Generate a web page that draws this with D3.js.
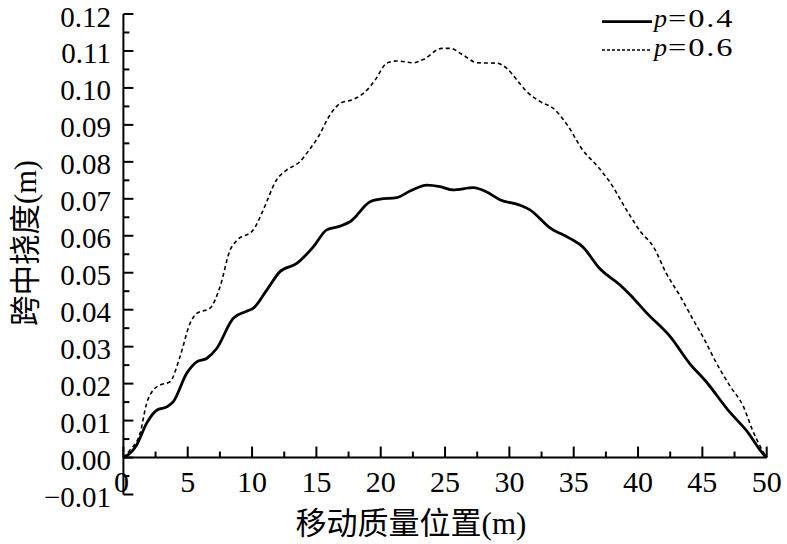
<!DOCTYPE html>
<html>
<head>
<meta charset="utf-8">
<script src="https://cdn.jsdelivr.net/npm/d3@7"></script>
<style>
  html, body { margin: 0; padding: 0; background: #fff; }
  svg { display: block; }
</style>
</head>
<body>
<svg id="chart" width="787" height="544"></svg>
<script>
// ---- data ----
const xP04 = [0, 0.12, 1.03, 1.81, 2.59, 3.37, 3.88, 4.92, 5.70, 6.47, 7.25, 8.54, 9.58, 10.1, 11.14, 12.17, 13.47, 14.76, 15.80, 16.84, 17.61, 19.17, 19.95, 21.24, 22.28, 23.6, 24.6, 25.6, 27.2, 28.2, 29.3, 30.8, 31.6, 33.1, 34.7, 35.7, 37.0, 38.6, 39.4, 40.7, 42.5, 44.0, 45.3, 47.1, 48.4, 49.8, 50];
const yP04 = [0, 0.0002, 0.0034, 0.0093, 0.0128, 0.0137, 0.0151, 0.0228, 0.0259, 0.0268, 0.0295, 0.0377, 0.0396, 0.0404, 0.0453, 0.0503, 0.0525, 0.0570, 0.0616, 0.0626, 0.0638, 0.0692, 0.0699, 0.0703, 0.0721, 0.0737, 0.0733, 0.0724, 0.0730, 0.0719, 0.0697, 0.0683, 0.0670, 0.0623, 0.0593, 0.0570, 0.0512, 0.0467, 0.0440, 0.0390, 0.0327, 0.0255, 0.0205, 0.0124, 0.0074, 0.0007, 0];
const xP06 = [0, 0.5, 1.29, 1.81, 2.33, 2.84, 3.62, 4.40, 5.18, 5.70, 6.73, 7.51, 8.29, 8.81, 10.1, 10.87, 11.9, 12.7, 13.7, 14.5, 15.15, 16.06, 16.84, 17.87, 18.65, 19.56, 20.47, 21.24, 22.53, 23.31, 24.74, 25.4, 26.4, 27.5, 29.0, 29.8, 30.6, 31.35, 32.4, 33.4, 34.5, 35.6, 37.0, 37.8, 39.1, 40.2, 41.2, 42.2, 43.3, 44.3, 45.1, 46.1, 47.1, 48.2, 48.9, 49.8, 50];
const yP06 = [0, 0.0020, 0.0065, 0.0147, 0.0183, 0.0196, 0.0205, 0.0273, 0.0363, 0.0390, 0.0404, 0.0462, 0.0561, 0.0587, 0.0616, 0.0670, 0.0751, 0.0778, 0.0800, 0.0835, 0.0868, 0.0927, 0.0958, 0.0969, 0.0985, 0.1021, 0.1067, 0.1073, 0.1068, 0.1077, 0.1107, 0.1107, 0.1089, 0.1068, 0.1067, 0.1053, 0.1021, 0.0990, 0.0963, 0.0945, 0.0900, 0.0837, 0.0782, 0.0746, 0.0670, 0.0611, 0.0570, 0.0498, 0.0435, 0.0372, 0.0323, 0.0255, 0.0196, 0.0137, 0.0074, 0.0011, 0];
const xTicks = [0, 5, 10, 15, 20, 25, 30, 35, 40, 45, 50];
const yTicks = [-0.01, 0, 0.01, 0.02, 0.03, 0.04, 0.05, 0.06, 0.07, 0.08, 0.09, 0.10, 0.11, 0.12];
const seriesNames = ["0.4", "0.6"];
const xTitleCJK = "移动质量位置";
const yTitleCJK = "跨中挠度";
const unit = "(m)";

// ---- layout ----
const SERIF = "'Liberation Serif', 'Times New Roman', 'DejaVu Serif', serif";
const CJK = "'Noto Sans CJK SC', sans-serif";
const svg = d3.select("#chart");
const x = d3.scaleLinear().domain([0, 50]).range([123.4, 766.7]);
const y = d3.scaleLinear().domain([-0.01, 0.12]).range([494.5, 14]);

// y axis line
svg.append("line").attr("x1", x(0)).attr("x2", x(0)).attr("y1", y(0.12)).attr("y2", y(-0.01))
  .attr("stroke", "#000").attr("stroke-width", 2);
// x axis line at y=0
svg.append("line").attr("x1", x(0)).attr("x2", x(50)).attr("y1", y(0)).attr("y2", y(0))
  .attr("stroke", "#000").attr("stroke-width", 2);

// y ticks (major + minor), pointing inward
const yMinor = d3.range(-0.005, 0.12, 0.01);
svg.selectAll(".ytk").data(yTicks).enter().append("line")
  .attr("x1", x(0)).attr("x2", x(0) + 10).attr("y1", d => y(d)).attr("y2", d => y(d))
  .attr("stroke", "#000").attr("stroke-width", 2);
svg.selectAll(".ytm").data(yMinor).enter().append("line")
  .attr("x1", x(0)).attr("x2", x(0) + 6).attr("y1", d => y(d)).attr("y2", d => y(d))
  .attr("stroke", "#000").attr("stroke-width", 2);
svg.selectAll(".ytl").data(yTicks).enter().append("text")
  .attr("x", 111).attr("y", d => y(d) + 12.5)
  .attr("text-anchor", "end").attr("font-size", 29).attr("font-family", SERIF)
  .text(d => (d < 0 ? "\u22120.01" : d.toFixed(2)));

// x ticks
const xMinor = d3.range(2.5, 50, 5);
svg.selectAll(".xtk").data(xTicks).enter().append("line")
  .attr("x1", d => x(d)).attr("x2", d => x(d)).attr("y1", y(0)).attr("y2", y(0) - 11)
  .attr("stroke", "#000").attr("stroke-width", 2);
svg.selectAll(".xtm").data(xMinor).enter().append("line")
  .attr("x1", d => x(d)).attr("x2", d => x(d)).attr("y1", y(0)).attr("y2", y(0) - 6)
  .attr("stroke", "#000").attr("stroke-width", 2);
svg.selectAll(".xtl").data(xTicks).enter().append("text")
  .attr("x", d => x(d) + (d === 0 ? -2 : 0)).attr("y", 492)
  .attr("text-anchor", "middle").attr("font-size", 30).attr("font-family", SERIF)
  .text(d => d);

// titles
const xt = svg.append("text").attr("x", 411).attr("y", 534).attr("text-anchor", "middle")
  .attr("font-size", 31);
xt.append("tspan").attr("font-family", CJK).text(xTitleCJK);
xt.append("tspan").attr("font-family", SERIF).text(unit);
const yt = svg.append("text").attr("transform", "translate(36,243) rotate(-90)").attr("text-anchor", "middle")
  .attr("font-size", 30.5);
yt.append("tspan").attr("font-family", CJK).text(yTitleCJK);
yt.append("tspan").attr("font-family", SERIF).text(unit);

// lines
const line = d3.line().x(d => x(d[0])).y(d => y(d[1])).curve(d3.curveMonotoneX);
const d04 = xP04.map((v, i) => [v, yP04[i]]);
const d06 = xP06.map((v, i) => [v, yP06[i]]);
svg.append("path").datum(d06).attr("d", line).attr("fill", "none")
  .attr("stroke", "#000").attr("stroke-width", 1.6).attr("stroke-dasharray", "4,3");
svg.append("path").datum(d04).attr("d", line).attr("fill", "none")
  .attr("stroke", "#000").attr("stroke-width", 2.8);

// legend
const leg = [{ y: 21.7, base: 27, w: 2.8, dash: null, name: seriesNames[0] },
             { y: 50, base: 56, w: 1.6, dash: "3,2", name: seriesNames[1] }];
leg.forEach(l => {
  svg.append("line").attr("x1", 602).attr("x2", 652).attr("y1", l.y).attr("y2", l.y)
    .attr("stroke", "#000").attr("stroke-width", l.w).attr("stroke-dasharray", l.dash);
  svg.append("text").attr("x", 654).attr("y", l.base).attr("font-size", 26)
    .attr("font-family", SERIF).attr("font-style", "italic").text("p");
  svg.append("text").attr("transform", `translate(668,${l.base}) scale(1.25,1)`)
    .attr("font-size", 26).attr("font-family", SERIF).attr("letter-spacing", 1.5)
    .text("=" + l.name);
});
</script>
</body>
</html>
